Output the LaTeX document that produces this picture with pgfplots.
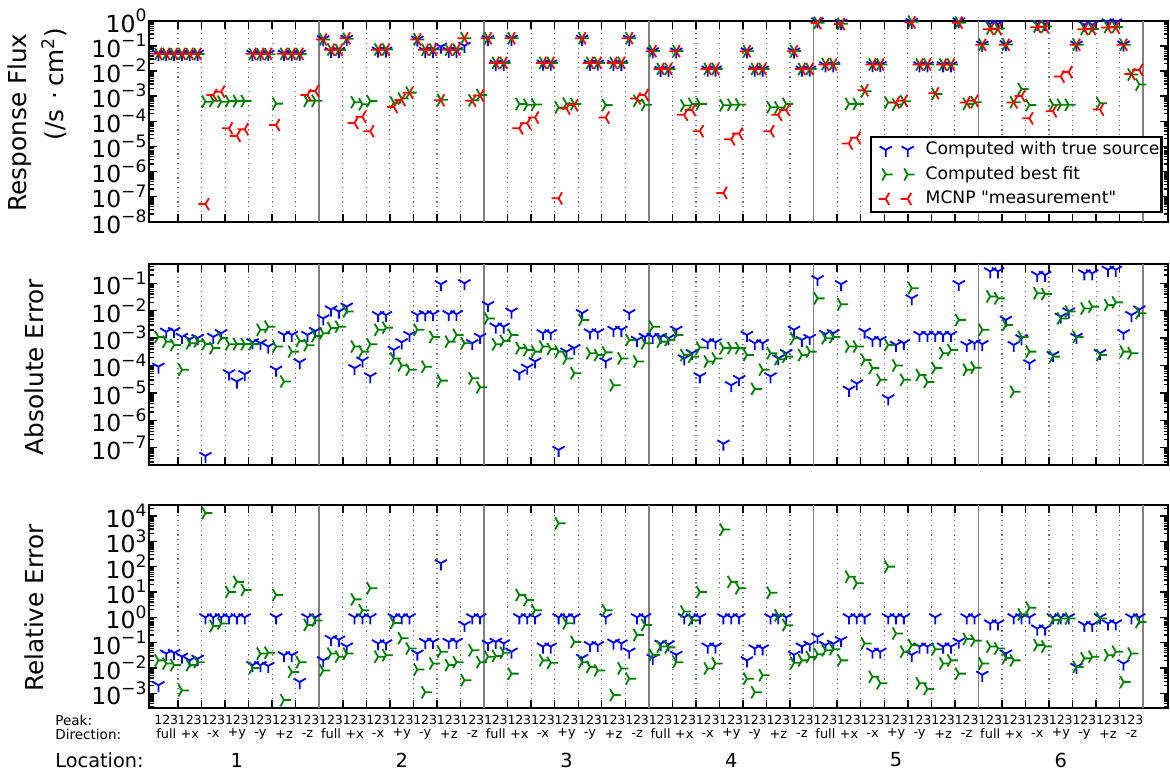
\documentclass[border=0pt]{standalone}
\usepackage{fontspec}
\setmainfont{DejaVu Sans}
\usepackage{pgfplots}
\pgfplotsset{compat=1.18}

\definecolor{mblue}{rgb}{0,0,1}
\definecolor{mgreen}{rgb}{0,0.5,0}
\definecolor{mred}{rgb}{1,0,0}

% matplotlib-like tri markers
\pgfdeclareplotmark{tridown}{%
  \pgfpathmoveto{\pgfpointorigin}\pgfpathlineto{\pgfpointpolar{-90}{\pgfplotmarksize}}%
  \pgfpathmoveto{\pgfpointorigin}\pgfpathlineto{\pgfpointpolar{30}{\pgfplotmarksize}}%
  \pgfpathmoveto{\pgfpointorigin}\pgfpathlineto{\pgfpointpolar{150}{\pgfplotmarksize}}%
  \pgfusepathqstroke}
\pgfdeclareplotmark{triright}{%
  \pgfpathmoveto{\pgfpointorigin}\pgfpathlineto{\pgfpointpolar{0}{\pgfplotmarksize}}%
  \pgfpathmoveto{\pgfpointorigin}\pgfpathlineto{\pgfpointpolar{120}{\pgfplotmarksize}}%
  \pgfpathmoveto{\pgfpointorigin}\pgfpathlineto{\pgfpointpolar{240}{\pgfplotmarksize}}%
  \pgfusepathqstroke}
\pgfdeclareplotmark{trileft}{%
  \pgfpathmoveto{\pgfpointorigin}\pgfpathlineto{\pgfpointpolar{180}{\pgfplotmarksize}}%
  \pgfpathmoveto{\pgfpointorigin}\pgfpathlineto{\pgfpointpolar{60}{\pgfplotmarksize}}%
  \pgfpathmoveto{\pgfpointorigin}\pgfpathlineto{\pgfpointpolar{300}{\pgfplotmarksize}}%
  \pgfusepathqstroke}

\newcommand\tl[1]{10\raisebox{0.45em}{\fontsize{8.6}{8.6}\selectfont #1}}
\newcommand\loclines{%
  \pgfplotsinvokeforeach{20.5,41.5,62.5,83.5,104.5,125.5}{%
    \draw[black!50, line width=0.8bp] ({axis cs:##1,1}|-{rel axis cs:0,0}) -- ({axis cs:##1,1}|-{rel axis cs:0,1});}}

% legend: two marks per entry, no connecting line
\makeatletter
\pgfplotsset{
  legend image code/.code={%
    \pgfpathrectangle{\pgfpoint{0bp}{-3.5bp}}{\pgfpoint{26.2bp}{7bp}}\pgfusepath{use as bounding box}%
    \begin{scope}[#1]%
      \pgfscope\pgftransformshift{\pgfpoint{7.2bp}{0bp}}\pgfuseplotmark{\tikz@plot@mark}\endpgfscope
      \pgfscope\pgftransformshift{\pgfpoint{18.2bp}{0bp}}\pgfuseplotmark{\tikz@plot@mark}\endpgfscope
    \end{scope}},
}
\makeatother

\pgfplotsset{
  rpanel/.style={
    scale only axis, width=509.35bp,
    xmin=-1.16, xmax=128.66,
    xtick={2.5,5.5,...,125.5}, xticklabels={},
    xmajorgrids=true,
    major grid style={black!55, line width=0.6bp, dash pattern=on 0.6bp off 1.8bp},
    tick align=inside, tick pos=both, yticklabel pos=left,
    major tick length=4bp, minor tick length=2.2bp,
    every tick/.style={black, line width=0.7bp},
    axis line style={line width=1.1bp},
    yticklabel style={font=\fontsize{11.8}{11.8}\selectfont, inner sep=1.2bp},
  },
  rblue/.style={only marks, mark=tridown, mark size=3.5bp, color=mblue, line width=0.9bp},
  rgreen/.style={only marks, mark=triright, mark size=3.5bp, color=mgreen, line width=0.9bp},
  rred/.style={only marks, mark=trileft, mark size=3.5bp, color=mred, line width=0.9bp},
}

\begin{document}
\begin{tikzpicture}
\path (0bp,0bp) rectangle (585bp,-386.5bp);

% ---------------- top: response flux
\begin{semilogyaxis}[rpanel, at={(74.65bp,-10.35bp)}, anchor=north west, height=100.5bp,
  ymin=1e-8, ymax=1,
  ytick={1e-8,1e-7,1e-6,1e-5,1e-4,1e-3,1e-2,1e-1,1},
  yticklabels={\tl{−8},\tl{−7},\tl{−6},\tl{−5},\tl{−4},\tl{−3},\tl{−2},\tl{−1},\tl{0}},
  minor ytick={2e-8,3e-8,4e-8,5e-8,6e-8,7e-8,8e-8,9e-8,2e-7,3e-7,4e-7,5e-7,6e-7,7e-7,8e-7,9e-7,
    2e-6,3e-6,4e-6,5e-6,6e-6,7e-6,8e-6,9e-6,2e-5,3e-5,4e-5,5e-5,6e-5,7e-5,8e-5,9e-5,
    2e-4,3e-4,4e-4,5e-4,6e-4,7e-4,8e-4,9e-4,2e-3,3e-3,4e-3,5e-3,6e-3,7e-3,8e-3,9e-3,
    2e-2,3e-2,4e-2,5e-2,6e-2,7e-2,8e-2,9e-2,0.2,0.3,0.4,0.5,0.6,0.7,0.8,0.9},
  legend cell align=left,
  legend style={at={(1,0)}, anchor=south east, xshift=-2.7bp, yshift=4.2bp,
    draw=black, line width=1.1bp, fill=white, font=\fontsize{8.6}{8.6}\selectfont,
    row sep=0bp, inner xsep=0bp, inner ysep=0.5bp,
    nodes={inner sep=1bp, text height=7.5bp, text depth=2.75bp}},
]
\loclines
\addplot[rblue] coordinates {
(0,0.048)(1,0.048)(2,0.048)(3,0.048)(4,0.048)(5,0.048)(12,0.048)(13,0.048)(14,0.048)(16,0.048)(17,0.048)(18,0.048)
(21,0.18)(22,0.061)(23,0.062)(24,0.19)(28,0.064)(29,0.064)(33,0.175)(34,0.063)(35,0.063)(36,0.092)(37,0.063)(38,0.063)(39,0.1)
(42,0.185)(43,0.019)(44,0.019)(45,0.19)(49,0.0195)(50,0.0195)(54,0.19)(55,0.0195)(56,0.0195)(58,0.019)(59,0.019)(60,0.19)
(63,0.06)(64,0.011)(65,0.011)(66,0.059)(70,0.0113)(71,0.0113)(75,0.06)(76,0.0113)(77,0.0113)(81,0.059)(82,0.0112)(83,0.0112)
(84,0.94)(85,0.0166)(86,0.0166)(87,0.82)(91,0.0172)(92,0.0172)(96,0.88)(97,0.0167)(98,0.0167)(100,0.0167)(101,0.0167)(102,0.93)
(105,0.11)(106,0.74)(107,0.74)(108,0.115)(112,0.75)(113,0.75)(117,0.111)(118,0.69)(119,0.69)(121,0.85)(122,0.85)(123,0.112)};
\addlegendentry{Computed with true source}
\addplot[rgreen] coordinates {
(0,0.047)(1,0.047)(2,0.047)(3,0.048)(4,0.047)(5,0.047)(6,6e-4)(7,6.5e-4)(8,6e-4)(9,6.3e-4)(10,6.3e-4)(11,6.3e-4)(12,0.047)(13,0.046)(14,0.046)(15,5e-4)(16,0.048)(17,0.048)(18,0.047)(19,6.5e-4)(20,6.5e-4)
(21,0.18)(22,0.072)(23,0.069)(24,0.19)(25,5.7e-4)(26,4.7e-4)(27,6.3e-4)(28,0.072)(29,0.072)(30,5.5e-4)(31,8e-4)(32,1.37e-3)(33,0.18)(34,0.07)(35,0.071)(36,7.1e-4)(37,0.07)(38,0.071)(39,0.2)(40,6.8e-4)(41,1.1e-3)
(42,0.2)(43,0.021)(44,0.021)(45,0.2)(46,4.8e-4)(47,4.5e-4)(48,4.6e-4)(49,0.021)(50,0.021)(51,3.5e-4)(52,5e-4)(53,4.8e-4)(54,0.2)(55,0.021)(56,0.021)(57,4.4e-4)(58,0.021)(59,0.021)(60,0.2)(61,6.5e-4)(62,4.5e-4)
(63,0.063)(64,0.012)(65,0.012)(66,0.062)(67,4.2e-4)(68,4.9e-4)(69,4.9e-4)(70,0.012)(71,0.012)(72,4.3e-4)(73,4.5e-4)(74,4.6e-4)(75,0.061)(76,0.012)(77,0.012)(78,3.6e-4)(79,3.5e-4)(80,4.9e-4)(81,0.062)(82,0.012)(83,0.012)
(84,0.83)(85,0.019)(86,0.019)(87,0.75)(88,4.9e-4)(89,4.9e-4)(90,1.55e-3)(91,0.018)(92,0.018)(93,5.6e-4)(94,4.6e-4)(95,6.2e-4)(96,0.92)(97,0.018)(98,0.018)(99,1.22e-3)(100,0.018)(101,0.018)(102,0.84)(103,4.9e-4)(104,5.7e-4)
(105,0.112)(106,0.49)(107,0.49)(108,0.113)(109,5.7e-4)(110,1.9e-3)(111,4.4e-4)(112,0.59)(113,0.59)(114,4.5e-4)(115,4.5e-4)(116,4.5e-4)(117,0.111)(118,0.47)(119,0.47)(120,5.2e-4)(121,0.56)(122,0.56)(123,0.11)(124,7.2e-3)(125,2.9e-3)};
\addlegendentry{Computed best fit}
\addplot[rred] coordinates {
(0,0.048)(1,0.048)(2,0.048)(3,0.048)(4,0.048)(5,0.048)(6,5e-8)(7,1.1e-3)(8,1.5e-3)(9,5.2e-5)(10,2.6e-5)(11,4.8e-5)(12,0.048)(13,0.048)(14,0.048)(15,7e-5)(16,0.048)(17,0.048)(18,0.048)(19,1.1e-3)(20,1.6e-3)
(21,0.18)(22,0.07)(23,0.068)(24,0.2)(25,8.5e-5)(26,1.5e-4)(27,4e-5)(28,0.07)(29,0.07)(30,3.7e-4)(31,7e-4)(32,1.35e-3)(33,0.18)(34,0.07)(35,0.07)(36,6.8e-4)(37,0.07)(38,0.07)(39,0.2)(40,6.5e-4)(41,1.05e-3)
(42,0.2)(43,0.021)(44,0.021)(45,0.2)(46,5.2e-5)(47,8.3e-5)(48,1.4e-4)(49,0.021)(50,0.021)(51,8.5e-8)(52,3.2e-4)(53,4.3e-4)(54,0.2)(55,0.021)(56,0.021)(57,1.4e-4)(58,0.021)(59,0.021)(60,0.2)(61,8e-4)(62,1.1e-3)
(63,0.061)(64,0.012)(65,0.012)(66,0.061)(67,1.8e-4)(68,2.8e-4)(69,4e-5)(70,0.012)(71,0.012)(72,1.4e-7)(73,1.9e-5)(74,3.2e-5)(75,0.061)(76,0.012)(77,0.012)(78,4e-5)(79,1.8e-4)(80,2.8e-4)(81,0.061)(82,0.012)(83,0.012)
(84,0.8)(85,0.018)(86,0.018)(87,0.73)(88,1.3e-5)(89,2.2e-5)(90,1.7e-3)(91,0.018)(92,0.018)(93,6.3e-6)(94,5.6e-4)(95,6.5e-4)(96,0.85)(97,0.018)(98,0.018)(99,1.3e-3)(100,0.018)(101,0.018)(102,0.84)(103,5.6e-4)(104,6.5e-4)
(105,0.11)(106,0.46)(107,0.46)(108,0.11)(109,5.6e-4)(110,1e-3)(111,1.3e-4)(112,0.55)(113,0.55)(114,2.5e-4)(115,6e-3)(116,9e-3)(117,0.11)(118,0.46)(119,0.46)(120,2.9e-4)(121,0.54)(122,0.54)(123,0.11)(124,7.5e-3)(125,0.011)};
\addlegendentry{MCNP \textquotedbl measurement\textquotedbl}
\end{semilogyaxis}

% ---------------- middle: absolute error
\begin{semilogyaxis}[rpanel, at={(74.65bp,-132.15bp)}, anchor=north west, height=100.35bp,
  ymin=2.34e-8, ymax=0.49,
  ytick={1e-7,1e-6,1e-5,1e-4,1e-3,1e-2,1e-1},
  yticklabels={\tl{−7},\tl{−6},\tl{−5},\tl{−4},\tl{−3},\tl{−2},\tl{−1}},
  minor ytick={3e-8,4e-8,5e-8,6e-8,7e-8,8e-8,9e-8,2e-7,3e-7,4e-7,5e-7,6e-7,7e-7,8e-7,9e-7,
    2e-6,3e-6,4e-6,5e-6,6e-6,7e-6,8e-6,9e-6,2e-5,3e-5,4e-5,5e-5,6e-5,7e-5,8e-5,9e-5,
    2e-4,3e-4,4e-4,5e-4,6e-4,7e-4,8e-4,9e-4,2e-3,3e-3,4e-3,5e-3,6e-3,7e-3,8e-3,9e-3,
    2e-2,3e-2,4e-2,5e-2,6e-2,7e-2,8e-2,9e-2,0.2,0.3,0.4},
]
\loclines
\addplot[rblue] coordinates {
(0,9e-5)(1,1.7e-3)(2,1.8e-3)(3,1.1e-3)(4,9e-4)(5,1.0e-3)(6,5e-8)(7,1.1e-3)(8,1.5e-3)(9,5.2e-5)(10,2.6e-5)(11,4.8e-5)(12,7e-4)(13,6.5e-4)(14,4.9e-4)(15,7e-5)(16,1.3e-3)(17,1.3e-3)(18,1.3e-4)(19,1.3e-3)(20,1.8e-3)
(21,5.2e-3)(22,0.011)(23,9.3e-3)(24,0.014)(25,8e-5)(26,1.5e-4)(27,4e-5)(28,6.9e-3)(29,6.9e-3)(30,3.7e-4)(31,7e-4)(32,1.3e-3)(33,6.9e-3)(34,7.4e-3)(35,7.4e-3)(36,0.092)(37,7.4e-3)(38,7.4e-3)(39,0.1)(40,6.5e-4)(41,1.1e-3)
(42,0.016)(43,2.6e-3)(44,2.6e-3)(45,9.2e-3)(46,5.2e-5)(47,8.3e-5)(48,1.4e-4)(49,1.5e-3)(50,1.5e-3)(51,8.3e-8)(52,3.2e-4)(53,4.3e-4)(54,8.1e-3)(55,1.6e-3)(56,1.6e-3)(57,1.4e-4)(58,2e-3)(59,2e-3)(60,8.1e-3)(61,8.5e-4)(62,1.1e-3)
(63,1.1e-3)(64,1.1e-3)(65,9.8e-4)(66,2e-3)(67,1.8e-4)(68,2.8e-4)(69,4e-5)(70,7e-4)(71,7e-4)(72,1.4e-7)(73,1.9e-5)(74,3.2e-5)(75,1.3e-3)(76,6.5e-4)(77,6.5e-4)(78,4e-5)(79,1.8e-4)(80,2.8e-4)(81,2e-3)(82,8.5e-4)(83,1e-3)
(84,0.14)(85,1.4e-3)(86,1.5e-3)(87,0.092)(88,1.3e-5)(89,2.2e-5)(90,1.7e-3)(91,8.5e-4)(92,8.5e-4)(93,6.3e-6)(94,5.6e-4)(95,6.5e-4)(96,0.028)(97,1.3e-3)(98,1.3e-3)(99,1.3e-3)(100,1.3e-3)(101,1.3e-3)(102,0.092)(103,5.6e-4)(104,6.5e-4)
(105,6e-4)(106,0.27)(107,0.27)(108,4.6e-3)(109,5.6e-4)(110,9.8e-4)(111,1.2e-4)(112,0.2)(113,0.2)(114,2.4e-4)(115,6e-3)(116,9.3e-3)(117,1.1e-3)(118,0.23)(119,0.23)(120,2.8e-4)(121,0.31)(122,0.31)(123,1.5e-3)(124,6.9e-3)(125,0.011)};
\addplot[rgreen] coordinates {
(0,1.1e-3)(1,7.4e-4)(2,5.6e-4)(3,7e-5)(4,6.5e-4)(5,7.6e-4)(6,6e-4)(7,4.3e-4)(8,1e-3)(9,5.9e-4)(10,6e-4)(11,6e-4)(12,6e-4)(13,2e-3)(14,2.6e-3)(15,4.9e-4)(16,2.6e-5)(17,3.2e-4)(18,7.9e-4)(19,5.5e-4)(20,1.2e-3)
(21,1.5e-3)(22,2.3e-3)(23,2.6e-3)(24,9.3e-3)(25,4.9e-4)(26,3.2e-4)(27,5.9e-4)(28,2e-3)(29,2.4e-3)(30,1.8e-4)(31,1e-4)(32,7e-5)(33,2e-3)(34,9e-5)(35,1.1e-3)(36,2.8e-5)(37,7.4e-4)(38,1.3e-3)(39,6.5e-4)(40,3.4e-5)(41,1.6e-5)
(42,5.2e-3)(43,5.9e-4)(44,7.9e-4)(45,1.3e-3)(46,4.3e-4)(47,3.7e-4)(48,3.2e-4)(49,4.9e-4)(50,4e-4)(51,3.2e-4)(52,1.8e-4)(53,5.2e-5)(54,4.6e-3)(55,2.8e-4)(56,2.4e-4)(57,3e-4)(58,1.9e-5)(59,1.8e-4)(60,8.5e-4)(61,1.4e-4)(62,6.5e-4)
(63,2.6e-3)(64,7.4e-4)(65,8.5e-4)(66,1.3e-3)(67,2.4e-4)(68,2.1e-4)(69,4.5e-4)(70,1.4e-4)(71,1.8e-4)(72,4.3e-4)(73,4.3e-4)(74,4.3e-4)(75,2.4e-4)(76,1.4e-5)(77,7e-5)(78,2.8e-4)(79,1.7e-4)(80,2.1e-4)(81,9.8e-4)(82,2.4e-4)(83,3.2e-4)
(84,0.028)(85,9.8e-4)(86,1.1e-3)(87,0.017)(88,4.9e-4)(89,4.9e-4)(90,1.6e-4)(91,8e-5)(92,3e-5)(93,5.6e-4)(94,1e-4)(95,3e-5)(96,0.066)(97,4.5e-5)(98,2.5e-5)(99,8e-5)(100,2.8e-4)(101,3.7e-4)(102,4.6e-3)(103,7e-5)(104,8.3e-5)
(105,2e-3)(106,0.033)(107,0.028)(108,3e-3)(109,1.1e-5)(110,1.1e-3)(111,3.2e-4)(112,0.043)(113,0.04)(114,2.1e-4)(115,5.2e-3)(116,9.3e-3)(117,1.1e-3)(118,0.012)(119,0.014)(120,2.4e-4)(121,0.016)(122,0.02)(123,3.2e-4)(124,2.8e-4)(125,8.1e-3)};
\end{semilogyaxis}

% ---------------- bottom: relative error
\begin{semilogyaxis}[rpanel, at={(74.65bp,-252.5bp)}, anchor=north west, height=101.65bp,
  ymin=2.57e-4, ymax=2.69e4,
  ytick={1e-3,1e-2,1e-1,1,1e1,1e2,1e3,1e4},
  yticklabels={\tl{−3},\tl{−2},\tl{−1},\tl{0},\tl{1},\tl{2},\tl{3},\tl{4}},
  minor ytick={3e-4,4e-4,5e-4,6e-4,7e-4,8e-4,9e-4,2e-3,3e-3,4e-3,5e-3,6e-3,7e-3,8e-3,9e-3,
    2e-2,3e-2,4e-2,5e-2,6e-2,7e-2,8e-2,9e-2,0.2,0.3,0.4,0.5,0.6,0.7,0.8,0.9,
    2,3,4,5,6,7,8,9,20,30,40,50,60,70,80,90,200,300,400,500,600,700,800,900,
    2000,3000,4000,5000,6000,7000,8000,9000,20000},
]
\loclines
\addplot[rblue] coordinates {
(0,2.1e-3)(1,0.037)(2,0.039)(3,0.028)(4,0.02)(5,0.023)(6,1)(7,1)(8,1)(9,1)(10,1)(11,1)(12,0.013)(13,0.013)(14,0.012)(15,1)(16,0.032)(17,0.032)(18,2.8e-3)(19,1)(20,1)
(21,0.02)(22,0.14)(23,0.13)(24,0.07)(25,1)(26,1)(27,1)(28,0.093)(29,0.093)(30,1)(31,1)(32,1)(33,0.037)(34,0.107)(35,0.107)(36,135)(37,0.107)(38,0.107)(39,0.5)(40,1)(41,1)
(42,0.09)(43,0.107)(44,0.093)(45,0.044)(46,1)(47,1)(48,1)(49,0.07)(50,0.07)(51,1)(52,1)(53,1)(54,0.025)(55,0.08)(56,0.08)(57,1)(58,0.1)(59,0.093)(60,0.044)(61,1)(62,1)
(63,0.025)(64,0.09)(65,0.085)(66,0.033)(67,1)(68,1)(69,1)(70,0.07)(71,0.07)(72,1)(73,1)(74,1)(75,0.02)(76,0.059)(77,0.059)(78,1)(79,1)(80,1)(81,0.033)(82,0.07)(83,0.083)
(84,0.17)(85,0.08)(86,0.09)(87,0.126)(88,1)(89,1)(90,1)(91,0.044)(92,0.044)(93,1)(94,1)(95,1)(96,0.033)(97,0.07)(98,0.07)(99,1)(100,0.07)(101,0.07)(102,0.11)(103,1)(104,1)
(105,5.4e-3)(106,0.57)(107,0.57)(108,0.037)(109,1)(110,1)(111,1)(112,0.36)(113,0.36)(114,1)(115,1)(116,1)(117,0.011)(118,0.5)(119,0.5)(120,1)(121,0.57)(122,0.57)(123,0.015)(124,1)(125,1)};
\addplot[rgreen] coordinates {
(0,0.02)(1,0.015)(2,0.013)(3,1.3e-3)(4,0.013)(5,0.017)(6,1.3e4)(7,0.45)(8,0.57)(9,10)(10,25)(11,12)(12,0.01)(13,0.037)(14,0.04)(15,7.6)(16,5.4e-4)(17,7e-3)(18,0.017)(19,0.5)(20,0.75)
(21,8e-3)(22,0.037)(23,0.028)(24,0.037)(25,5.1)(26,1.9)(27,14)(28,0.028)(29,0.032)(30,0.6)(31,0.15)(32,0.059)(33,8.7e-3)(34,1.1e-3)(35,0.015)(36,0.044)(37,0.013)(38,0.017)(39,3.3e-3)(40,0.05)(41,0.017)
(42,0.028)(43,0.03)(44,0.04)(45,6e-3)(46,7.6)(47,4.8)(48,1.9)(49,0.02)(50,0.016)(51,5100)(52,0.58)(53,0.107)(54,0.017)(55,0.011)(56,8e-3)(57,1.9)(58,8.5e-4)(59,9.6e-3)(60,3.8e-3)(61,0.2)(62,0.5)
(63,0.033)(64,0.07)(65,0.065)(66,0.017)(67,1.7)(68,0.77)(69,10)(70,9.6e-3)(71,0.015)(72,2900)(73,25)(74,14)(75,3.8e-3)(76,1.1e-3)(77,5.2e-3)(78,9.3)(79,1.2)(80,0.49)(81,0.016)(82,0.02)(83,0.027)
(84,0.035)(85,0.05)(86,0.055)(87,0.02)(88,40)(89,22)(90,0.093)(91,4.5e-3)(92,2.5e-3)(93,100)(94,0.23)(95,0.044)(96,0.08)(97,2.5e-3)(98,1.5e-3)(99,0.055)(100,0.015)(101,0.02)(102,6e-3)(103,0.14)(104,0.12)
(105,0.015)(106,0.07)(107,0.059)(108,0.025)(109,0.02)(110,1.3)(111,2.4)(112,0.08)(113,0.07)(114,0.79)(115,0.9)(116,0.9)(117,0.011)(118,0.024)(119,0.028)(120,0.9)(121,0.032)(122,0.044)(123,2.8e-3)(124,0.037)(125,0.66)};
\end{semilogyaxis}

% ---------------- axis titles
\begin{scope}[every node/.style={font=\fontsize{12.4}{12.4}\selectfont, rotate=90, inner sep=0pt}]
\node at (10bp,-61.25bp) {Response Flux};
\node at (27bp,-42bp) {(/s\hspace{5bp}·\hspace{2.5bp}cm\textsuperscript{2})};
\node at (17bp,-183.5bp) {Absolute Error};
\node at (17bp,-304bp) {Relative Error};
\end{scope}

% ---------------- category labels under the plots
\node[anchor=west, inner sep=0pt, font=\fontsize{6.8}{6.8}\selectfont] at (27.5bp,-360bp) {Peak:};
\node[anchor=west, inner sep=0pt, font=\fontsize{6.8}{6.8}\selectfont] at (27.5bp,-367bp) {Direction:};
\node[anchor=west, inner sep=0pt, font=\fontsize{9.7}{9.7}\selectfont] at (27.5bp,-380bp) {Location:};
\foreach \i in {0,...,125}{
  \pgfmathtruncatemacro{\p}{mod(\i,3)+1}
  \node[inner sep=0pt, font=\fontsize{6.3}{6.3}\selectfont] at ({79.21bp+3.9235bp*\i},-360bp) {\p};
}
\foreach \l in {0,...,5}{
  \foreach \d/\n in {0/full,1/+x,2/-x,3/+y,4/-y,5/+z,6/-z}{
    \node[inner sep=0pt, font=\fontsize{6.5}{6.5}\selectfont] at ({79.21bp+3.9235bp*(21*\l+3*\d+1)},-367bp) {\n};
  }
}
\foreach \l [count=\n] in {0,...,5}{
  \node[inner sep=0pt, font=\fontsize{9.7}{9.7}\selectfont] at ({79.21bp+3.9235bp*(21*\l+10)},-380bp) {\n};
}
\end{tikzpicture}
\end{document}
